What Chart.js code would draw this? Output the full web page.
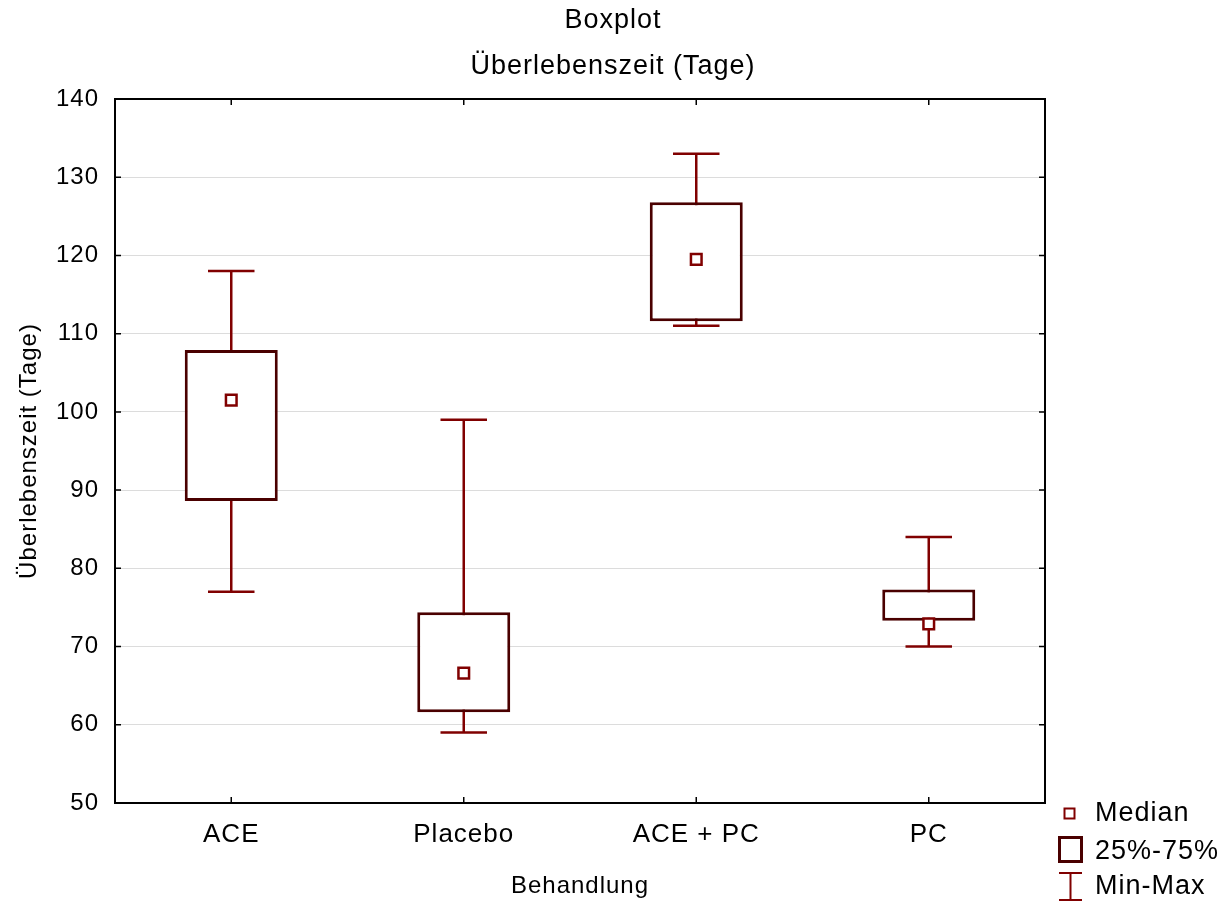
<!DOCTYPE html>
<html>
<head>
<meta charset="utf-8">
<script src="https://cdn.jsdelivr.net/npm/chart.js@4.4.1/dist/chart.umd.min.js"></script>
<style>
  html, body { margin: 0; padding: 0; background: #fff; }
  #wrap { width: 1226px; height: 901px; }
</style>
</head>
<body>
<div id="wrap"><canvas id="boxChart" width="1226" height="901"></canvas></div>
<script>
// Data
const categories = ['ACE', 'Placebo', 'ACE + PC', 'PC'];
const minVals = [77, 59, 111, 70];
const q1Vals = [88.6, 61.6, 111.6, 73.3];
const medianVals = [101.5, 66.6, 119.5, 72.9];
const q3Vals = [107.9, 74.4, 126.8, 77.3];
const maxVals = [118, 99, 133, 84];
const yTicks = [50, 60, 70, 80, 90, 100, 110, 120, 130, 140];

const boxColor = '#4a0000';
const whiskerColor = '#800000';
const FONT = "'Liberation Sans', Arial, sans-serif";
const SPACING = '1px';

// letter spacing like the original export
const spacingPlugin = {
  id: 'spacing',
  beforeLayout(chart) { chart.ctx.letterSpacing = SPACING; },
  beforeDraw(chart) { chart.ctx.letterSpacing = SPACING; }
};

// whiskers: min-max line plus caps, drawn under the boxes
const whiskerPlugin = {
  id: 'whiskers',
  beforeDatasetsDraw(chart) {
    const { ctx, scales: { x, y } } = chart;
    const bars = chart.getDatasetMeta(0).data;
    ctx.save();
    ctx.strokeStyle = whiskerColor;
    ctx.lineWidth = 2.5;
    categories.forEach((c, i) => {
      const cx = x.getPixelForValue(i);
      const half = bars[i].width / 4;
      const yMin = y.getPixelForValue(minVals[i]);
      const yMax = y.getPixelForValue(maxVals[i]);
      ctx.beginPath();
      ctx.moveTo(cx, yMin); ctx.lineTo(cx, yMax);
      ctx.moveTo(cx - half, yMin); ctx.lineTo(cx + half, yMin);
      ctx.moveTo(cx - half, yMax); ctx.lineTo(cx + half, yMax);
      ctx.stroke();
    });
    ctx.restore();
  }
};

// frame, inward tick marks and legend
const framePlugin = {
  id: 'frame',
  afterDraw(chart) {
    const { ctx, chartArea: a, scales: { x, y } } = chart;
    ctx.save();
    ctx.strokeStyle = '#000';
    ctx.lineWidth = 1.5;
    ctx.beginPath();
    yTicks.forEach(v => {
      const py = y.getPixelForValue(v);
      ctx.moveTo(a.left, py); ctx.lineTo(a.left + 6, py);
      ctx.moveTo(a.right, py); ctx.lineTo(a.right - 6, py);
    });
    categories.forEach((c, i) => {
      const px = x.getPixelForValue(i);
      ctx.moveTo(px, a.bottom); ctx.lineTo(px, a.bottom - 6);
      ctx.moveTo(px, a.top); ctx.lineTo(px, a.top + 6);
    });
    ctx.stroke();
    ctx.lineWidth = 2;
    ctx.strokeRect(a.left, a.top, a.right - a.left, a.bottom - a.top);

    // legend
    ctx.letterSpacing = SPACING;
    ctx.font = '27px ' + FONT;
    ctx.fillStyle = '#000';
    ctx.textBaseline = 'middle';
    ctx.textAlign = 'left';
    ctx.fillText('Median', 1095, 814);
    ctx.fillText('25%-75%', 1095, 852);
    ctx.fillText('Min-Max', 1095, 887);

    ctx.strokeStyle = whiskerColor;
    ctx.lineWidth = 2;
    ctx.strokeRect(1064.5, 808.5, 10, 10);

    ctx.strokeStyle = boxColor;
    ctx.lineWidth = 3;
    ctx.strokeRect(1059.5, 837.5, 22, 24);

    ctx.strokeStyle = whiskerColor;
    ctx.lineWidth = 2;
    ctx.beginPath();
    ctx.moveTo(1070.5, 873); ctx.lineTo(1070.5, 900);
    ctx.moveTo(1059, 873); ctx.lineTo(1082, 873);
    ctx.moveTo(1059, 900); ctx.lineTo(1082, 900);
    ctx.stroke();
    ctx.restore();
  }
};

new Chart(document.getElementById('boxChart'), {
  type: 'bar',
  data: {
    labels: categories,
    datasets: [
      {
        label: '25%-75%',
        data: q1Vals.map((q, i) => [q, q3Vals[i]]),
        backgroundColor: '#ffffff',
        borderColor: boxColor,
        borderWidth: 3,
        borderSkipped: false,
        barPercentage: 0.4,
        categoryPercentage: 1,
        order: 2
      },
      {
        type: 'line',
        label: 'Median',
        data: medianVals,
        showLine: false,
        pointStyle: 'rect',
        pointRadius: 7.5,
        pointBorderWidth: 2.5,
        pointBorderColor: whiskerColor,
        pointBackgroundColor: '#ffffff',
        order: 1
      }
    ]
  },
  options: {
    responsive: false,
    animation: false,
    events: [],
    layout: { padding: 0 },
    plugins: {
      legend: { display: false },
      tooltip: { enabled: false },
      title: {
        display: true,
        text: 'Boxplot',
        color: '#000',
        font: { family: FONT, size: 27, weight: 'normal', lineHeight: 1.2 },
        padding: { top: 4.8, bottom: 0 }
      },
      subtitle: {
        display: true,
        text: 'Überlebenszeit (Tage)',
        color: '#000',
        font: { family: FONT, size: 27, weight: 'normal', lineHeight: 1.2 },
        padding: { top: 13.6, bottom: 15.8 }
      }
    },
    scales: {
      x: {
        offset: true,
        grid: { display: false },
        border: { display: false },
        ticks: { color: '#000', padding: 8, font: { family: FONT, size: 26 } },
        title: {
          display: true,
          text: 'Behandlung',
          color: '#000',
          font: { family: FONT, size: 24, lineHeight: 1.2 },
          padding: { top: 0, bottom: 0 }
        },
        afterFit(scale) { scale.height = 98; }
      },
      y: {
        min: 50,
        max: 140,
        ticks: { stepSize: 10, color: '#000', padding: 16, font: { family: FONT, size: 24 } },
        grid: { color: '#dcdcdc', lineWidth: 1, drawTicks: false },
        border: { display: false },
        title: {
          display: true,
          text: 'Überlebenszeit (Tage)',
          color: '#000',
          font: { family: FONT, size: 24, lineHeight: 1.2 },
          padding: { top: 15, bottom: 0 }
        },
        afterFit(scale) { scale.width = 115; }
      },
      // empty right-hand strip that holds the legend
      yRight: {
        type: 'linear',
        position: 'right',
        min: 50,
        max: 140,
        grid: { display: false },
        border: { display: false },
        ticks: { display: false },
        afterFit(scale) { scale.width = 181; }
      }
    }
  },
  plugins: [spacingPlugin, whiskerPlugin, framePlugin]
});
</script>
</body>
</html>
